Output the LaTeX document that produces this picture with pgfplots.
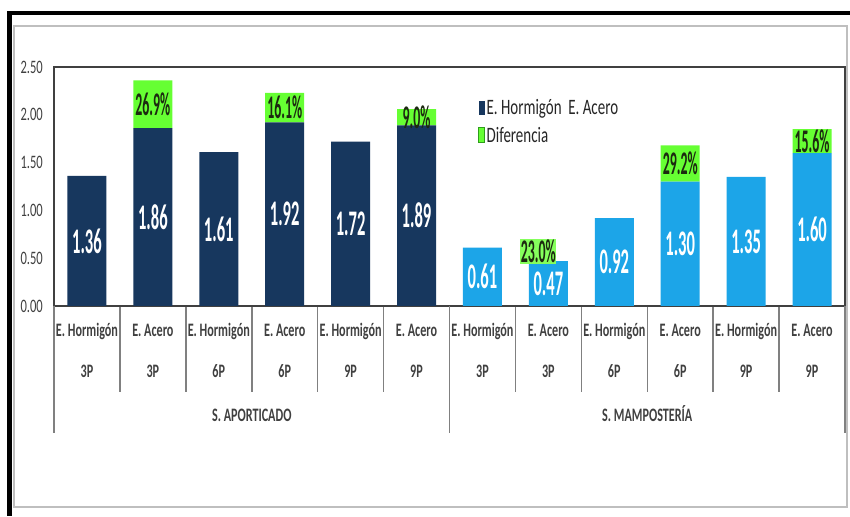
\documentclass[border=0pt]{standalone}
\usepackage{fontspec}
\setmainfont{Carlito}
\newfontfamily\tickfont[FakeStretch=0.66]{Carlito}
\newfontfamily\catfont[FakeStretch=0.64]{Carlito}
\newfontfamily\valfont[FakeStretch=0.46]{Carlito}
\newfontfamily\pctfont[FakeStretch=0.42]{Carlito}
\newfontfamily\legfont[FakeStretch=0.68]{Carlito}
\usepackage{pgfplots}
\usepackage{pgfplotstable}
\pgfplotsset{compat=1.18}

\definecolor{navy}{HTML}{17375E}
\definecolor{sky}{HTML}{1CA5E8}
\definecolor{lime}{HTML}{66FF33}
\definecolor{limeedge}{HTML}{2E9E1A}
\definecolor{pcttext}{HTML}{1C2A10}
\definecolor{tickgray}{HTML}{404040}
\definecolor{legtext}{HTML}{262626}
\definecolor{sepgray}{HTML}{808080}
\definecolor{framegray}{HTML}{BFBFBF}

\newcommand\cl[2]{\vphantom{Ég}#1\\#2}

% bars: base value per system, plus the difference stacked on top
\pgfplotstableread{
x base1 base2 diff
0  1.36 0    0
1  1.86 0    0.50
2  1.61 0    0
3  1.92 0    0.31
4  1.72 0    0
5  1.89 0    0.17
6  0    0.61 0
7  0    0.47 0
8  0    0.92 0
9  0    1.30 0.38
10 0    1.35 0
11 0    1.60 0.25
}\bars

\pgfplotstableread{
x y lab
0  0.680 1.36
1  0.930 1.86
2  0.805 1.61
3  0.960 1.92
4  0.860 1.72
5  0.945 1.89
6  0.305 0.61
7  0.235 0.47
8  0.460 0.92
9  0.650 1.30
10 0.675 1.35
11 0.800 1.60
}\vals

\pgfplotstableread{
x y lab
1  2.110 26.9
3  2.075 16.1
5  1.975 9.0
9  1.490 29.2
11 1.725 15.6
}\pcts

\pgfplotstableread{
x y lab
7 0.57 23.0
}\pctneg

\begin{document}
\begin{tikzpicture}
\path[use as bounding box] (0,0) rectangle (850pt,516pt);
% screenshot frame
\fill[white] (0,0) rectangle (850pt,516pt);
\draw[framegray, line width=2pt] (13.5pt,9pt) rectangle (847pt,490pt);
\fill[black] (7pt,0pt) rectangle (12pt,505pt);
\fill[black] (7pt,501pt) rectangle (850pt,505pt);

\begin{axis}[
  at={(54pt,210pt)}, anchor=south west,
  scale only axis, width=791pt, height=239pt,
  ybar stacked, bar width=39pt,
  xmin=-0.5, xmax=11.5, ymin=0, ymax=2.5,
  clip=false,
  axis line style={draw=black!75, line width=1.5pt},
  ytick={0,0.5,1,1.5,2,2.5},
  yticklabel style={font=\tickfont\fontsize{19}{19}\selectfont, text=tickgray, inner sep=0pt, xshift=-11pt},
  /pgf/number format/.cd, fixed, fixed zerofill, precision=2, assume math mode=true,
  /pgfplots/.cd,
  xtick={0,...,11},
  xticklabels={
    {\cl{E. Hormigón}{3P}},{\cl{E. Acero}{3P}},
    {\cl{E. Hormigón}{6P}},{\cl{E. Acero}{6P}},
    {\cl{E. Hormigón}{9P}},{\cl{E. Acero}{9P}},
    {\cl{E. Hormigón}{3P}},{\cl{E. Acero}{3P}},
    {\cl{E. Hormigón}{6P}},{\cl{E. Acero}{6P}},
    {\cl{E. Hormigón}{9P}},{\cl{E. Acero}{9P}}},
  xticklabel style={align=center, anchor=north, inner sep=0pt, yshift=-14pt,
    font=\catfont\bfseries\fontsize{19}{41}\selectfont, text=tickgray},
  extra x ticks={2.5,8.5},
  extra x tick labels={{\vphantom{Ég}S. APORTICADO},{\vphantom{Ég}S. MAMPOSTERÍA}},
  extra x tick style={major tick length=0pt, xticklabel style={yshift=-85pt}},
  minor xtick={0.5,1.5,...,10.5},
  major tick length=0pt,
  minor tick length=86pt,
  tick align=outside,
  xtick pos=lower, ytick pos=left,
  minor tick style={draw=sepgray, line width=1.5pt},
  legend style={at={(0.536,0.872)}, anchor=north west, draw=none, fill=none,
    font=\legfont\fontsize{22}{22}\selectfont, text=legtext,
    row sep=8pt, inner sep=0pt, nodes={inner sep=1.5pt}},
  legend cell align=left,
]
\addplot[fill=navy, draw=none,
  legend image code/.code={\fill[navy] (0pt,-7pt) rectangle (6pt,7pt);}]
  table[x=x, y=base1] {\bars};
\addlegendentry{E. Hormigón\ \ E. Acero}
\addplot[fill=sky, draw=none, forget plot] table[x=x, y=base2] {\bars};
\addplot[fill=lime, draw=none,
  legend image code/.code={\filldraw[fill=lime, draw=limeedge, line width=1pt] (0pt,-7pt) rectangle (6pt,8pt);}]
  table[x=x, y=diff] {\bars};
\addlegendentry{Diferencia}
% group separators on the category axis
\draw[sepgray, line width=1.5pt] (axis cs:-0.5,0) -- ++(0pt,-127pt);
\draw[sepgray, line width=1.5pt] (axis cs:5.5,0) -- ++(0pt,-127pt);
\draw[sepgray, line width=1.5pt] (axis cs:11.5,0) -- ++(0pt,-127pt);
\end{axis}

% data labels
\begin{axis}[
  at={(54pt,210pt)}, anchor=south west,
  scale only axis, width=791pt, height=239pt,
  xmin=-0.5, xmax=11.5, ymin=0, ymax=2.5,
  hide axis, clip=false,
]
\addplot[draw=none, mark=none, nodes near coords, point meta=explicit symbolic,
  every node near coord/.append style={anchor=center, text=white,
    font=\valfont\bfseries\fontsize{36}{36}\selectfont}]
  table[x=x, y=y, meta=lab] {\vals};
\addplot[draw=none, mark=none, nodes near coords={\pgfplotspointmeta\%}, point meta=explicit symbolic,
  every node near coord/.append style={anchor=center, text=pcttext,
    font=\pctfont\bfseries\fontsize{33}{33}\selectfont}]
  table[x=x, y=y, meta=lab] {\pcts};
\addplot[draw=none, mark=none, nodes near coords={\pgfplotspointmeta\%}, point meta=explicit symbolic,
  every node near coord/.append style={anchor=center, text=pcttext, fill=lime!80!white,
    inner sep=0.5pt, xshift=-10pt, font=\pctfont\bfseries\fontsize{33}{33}\selectfont}]
  table[x=x, y=y, meta=lab] {\pctneg};
\end{axis}
\end{tikzpicture}
\end{document}
